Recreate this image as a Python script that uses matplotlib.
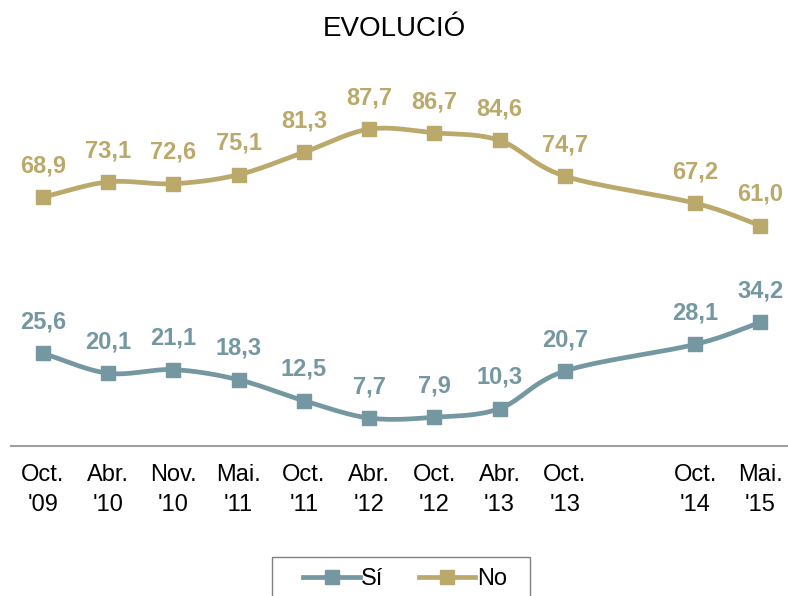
import numpy as np
import matplotlib
matplotlib.use('Agg')
import matplotlib.pyplot as plt
from matplotlib.patches import Rectangle

plt.rcParams['font.family'] = ['Liberation Sans', 'DejaVu Sans']

# dades (la categoria buida deixa l'espai que hi ha al gràfic original)
periodes = ["Oct.\n'09", "Abr.\n'10", "Nov.\n'10", "Mai.\n'11", "Oct.\n'11", "Abr.\n'12",
            "Oct.\n'12", "Abr.\n'13", "Oct.\n'13", "", "Oct.\n'14", "Mai.\n'15"]
si = [25.6, 20.1, 21.1, 18.3, 12.5, 7.7, 7.9, 10.3, 20.7, None, 28.1, 34.2]
no = [68.9, 73.1, 72.6, 75.1, 81.3, 87.7, 86.7, 84.6, 74.7, None, 67.2, 61.0]

color_si = '#7497a2'
color_no = '#bba86b'


def corba_suau(x, y, n=30):
    """Catmull-Rom per suavitzar la línia com a l'Excel"""
    px = np.concatenate([[2 * x[0] - x[1]], x, [2 * x[-1] - x[-2]]])
    py = np.concatenate([[2 * y[0] - y[1]], y, [2 * y[-1] - y[-2]]])
    xs, ys = [], []
    t = np.linspace(0, 1, n)
    for i in range(1, len(px) - 2):
        for p, out in ((px, xs), (py, ys)):
            p0, p1, p2, p3 = p[i - 1], p[i], p[i + 1], p[i + 2]
            out.extend(0.5 * ((2 * p1) + (-p0 + p2) * t
                              + (2 * p0 - 5 * p1 + 4 * p2 - p3) * t ** 2
                              + (-p0 + 3 * p1 - 3 * p2 + p3) * t ** 3))
    return np.array(xs), np.array(ys)


fig = plt.figure(figsize=(7.88, 5.96), dpi=100)
ax = fig.add_axes([11 / 788, 1 - 445.8 / 596, 782 / 788, 361 / 596])

pos = np.arange(len(periodes))
for nom, vals, col in (('Sí', si, color_si), ('No', no, color_no)):
    x = np.array([p for p, v in zip(pos, vals) if v is not None], dtype=float)
    y = np.array([v for v in vals if v is not None], dtype=float)
    cx, cy = corba_suau(x, y)
    ax.plot(cx, cy, color=col, lw=3.4, solid_capstyle='round', zorder=2)
    ax.plot(x, y, ls='none', marker='s', ms=10.5, color=col, zorder=3)
    # llegenda
    ax.plot([], [], color=col, lw=3.4, marker='s', ms=10.5, label=nom)
    for xi, yi in zip(x, y):
        ax.annotate(f'{yi:.1f}'.replace('.', ','), (xi, yi), xytext=(0, 22.5),
                    textcoords='offset points', ha='center', va='center',
                    fontsize=17, fontweight='bold', color=col)

ax.set_xlim(-0.49, 11.5)
ax.set_ylim(0, 100)
ax.set_xticks(pos)
ax.set_xticklabels(periodes, fontsize=17, linespacing=1.45)
ax.tick_params(axis='x', length=0, pad=13)
ax.set_yticks([])
for s in ('top', 'right', 'left'):
    ax.spines[s].set_visible(False)
ax.spines['bottom'].set_color('#a0a0a0')
ax.spines['bottom'].set_linewidth(1.5)

fig.text(0.5, 1 - 29 / 596, 'EVOLUCIÓ', ha='center', va='center', fontsize=20)

leg = fig.legend(loc='center', bbox_to_anchor=(405 / 788, 1 - 579 / 596), ncol=2,
                 fontsize=17, frameon=False, handlelength=2.4,
                 columnspacing=1.5, borderpad=0.3, handletextpad=0.05,
                 borderaxespad=0)
# marc de la llegenda (surt per sota, com a l'original)
fig.patches.append(Rectangle((272 / 788, 1 - 605 / 596), 258 / 788, 48 / 596,
                             transform=fig.transFigure, fill=False,
                             edgecolor='#808080', lw=1.0))

fig.savefig('out.png', dpi=100)
